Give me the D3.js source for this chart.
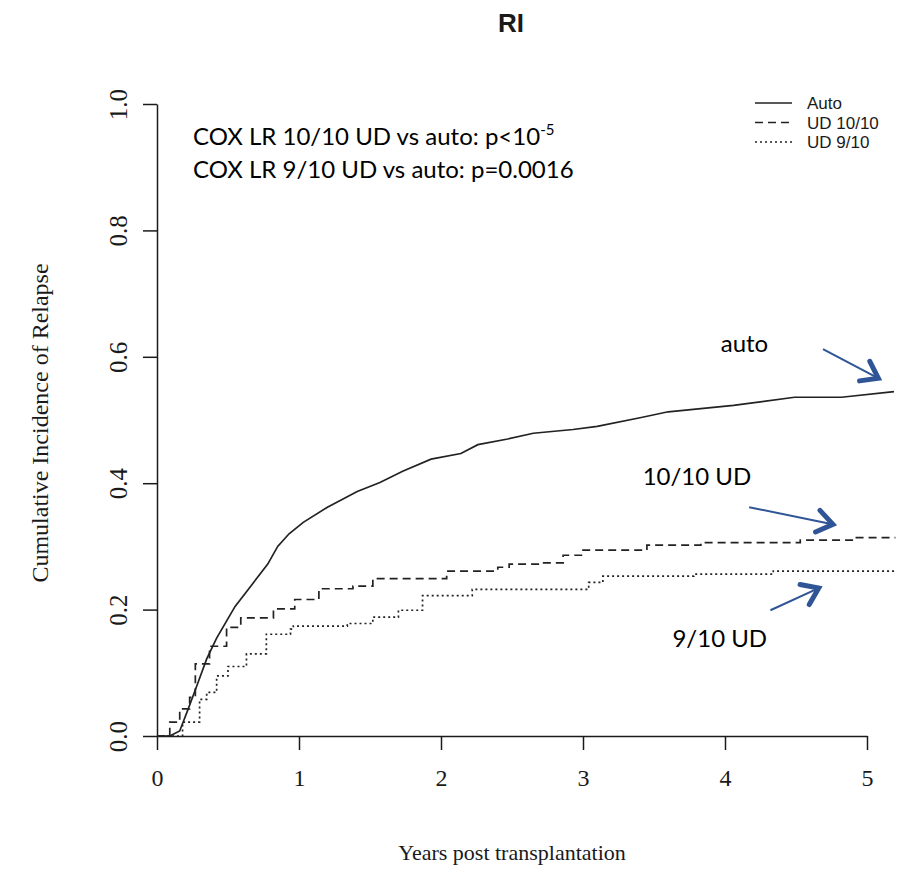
<!DOCTYPE html>
<html>
<head>
<meta charset="utf-8">
<script src="https://cdn.jsdelivr.net/npm/d3@7"></script>
<style>
  body { margin: 0; background: #fff; }
  svg { display: block; }
</style>
</head>
<body>
<svg id="chart"></svg>
<script>
// years post transplantation / cumulative incidence
var autoTime = [0, 0.09, 0.16, 0.22, 0.28, 0.35, 0.42, 0.55, 0.66, 0.78, 0.85, 0.93, 1.03, 1.20, 1.41, 1.57, 1.73, 1.93, 2.14, 2.26, 2.47, 2.65, 2.93, 3.10, 3.41, 3.60, 4.06, 4.49, 4.82, 5.19];
var autoCI   = [0, 0, 0.008, 0.043, 0.079, 0.122, 0.155, 0.205, 0.237, 0.272, 0.300, 0.320, 0.338, 0.362, 0.387, 0.401, 0.419, 0.438, 0.447, 0.461, 0.470, 0.479, 0.485, 0.490, 0.504, 0.513, 0.523, 0.536, 0.536, 0.545];

var ud10Time = [0, 0.035, 0.09, 0.16, 0.23, 0.27, 0.37, 0.49, 0.59, 0.82, 0.97, 1.14, 1.38, 1.52, 2.04, 2.40, 2.48, 2.70, 2.86, 3.00, 3.45, 3.83, 4.53, 4.91, 5.20];
var ud10CI   = [0, 0, 0.022, 0.043, 0.061, 0.114, 0.142, 0.172, 0.187, 0.201, 0.216, 0.233, 0.237, 0.249, 0.261, 0.267, 0.272, 0.274, 0.286, 0.294, 0.302, 0.306, 0.310, 0.314, 0.314];

var ud9Time = [0, 0.16, 0.18, 0.30, 0.35, 0.42, 0.50, 0.63, 0.77, 0.94, 0.96, 1.34, 1.52, 1.70, 1.87, 2.22, 3.04, 3.14, 3.78, 4.34, 5.20];
var ud9CI   = [0, 0, 0.022, 0.058, 0.069, 0.095, 0.110, 0.130, 0.161, 0.169, 0.174, 0.178, 0.188, 0.199, 0.222, 0.232, 0.243, 0.253, 0.256, 0.261, 0.261];

var xTicks = [0, 1, 2, 3, 4, 5];
var yTicks = [0, 0.2, 0.4, 0.6, 0.8, 1.0];
var legendLabels = ["Auto", "UD 10/10", "UD 9/10"];

var width = 901;
var height = 874;

var svg = d3.select("#chart")
  .attr("width", width)
  .attr("height", height);

// scales
var x = d3.scaleLinear().domain([0, 5]).range([157, 867]);
var y = d3.scaleLinear().domain([0, 1]).range([736, 104]);

var serif = "'Liberation Serif', 'Times New Roman', serif";
var arial = "'Liberation Sans', Arial, sans-serif";
var calibri = "Lato, 'Open Sans', sans-serif";
var ink = "#1a1a1a";

// title
svg.append("text")
  .attr("x", 511).attr("y", 32)
  .attr("text-anchor", "middle")
  .attr("font-family", arial)
  .attr("font-weight", "bold")
  .attr("font-size", 26)
  .attr("fill", ink)
  .text("RI");

// x axis
var xAxis = svg.append("g")
  .attr("transform", "translate(0," + y(0) + ")")
  .call(d3.axisBottom(x).tickValues(xTicks).tickSize(14).tickSizeOuter(0).tickPadding(19).tickFormat(d3.format("d")));
xAxis.selectAll("path, line").attr("stroke", ink).attr("stroke-width", 1.5);
xAxis.selectAll("text")
  .attr("font-family", serif)
  .attr("font-size", 24)
  .attr("fill", ink);

// y axis, labels turned like in R
var yAxis = svg.append("g")
  .attr("transform", "translate(" + x(0) + ",0)")
  .call(d3.axisLeft(y).tickValues(yTicks).tickSize(14).tickSizeOuter(0).tickFormat(d3.format(".1f")));
yAxis.selectAll("path, line").attr("stroke", ink).attr("stroke-width", 1.5);
yAxis.selectAll("text")
  .attr("x", null).attr("dy", null)
  .attr("transform", "translate(-39,0) rotate(-90)")
  .attr("dy", "0.35em")
  .attr("text-anchor", "middle")
  .attr("font-family", serif)
  .attr("font-size", 25)
  .attr("fill", ink);

// axis titles
svg.append("text")
  .attr("x", 512).attr("y", 860)
  .attr("text-anchor", "middle")
  .attr("font-family", serif)
  .attr("font-size", 22)
  .attr("fill", ink)
  .text("Years post transplantation");

svg.append("text")
  .attr("transform", "translate(40,423) rotate(-90)")
  .attr("dy", "0.35em")
  .attr("text-anchor", "middle")
  .attr("font-family", serif)
  .attr("font-size", 24)
  .attr("fill", ink)
  .text("Cumulative Incidence of Relapse");

// curves
var series = [
  { name: legendLabels[0], time: autoTime, ci: autoCI, dash: null, curve: d3.curveLinear },
  { name: legendLabels[1], time: ud10Time, ci: ud10CI, dash: "8,5", curve: d3.curveStepAfter },
  { name: legendLabels[2], time: ud9Time, ci: ud9CI, dash: "2,3", curve: d3.curveStepAfter }
];

series.forEach(function(s) {
  var pts = s.time.map(function(t, i) { return [t, s.ci[i]]; });
  svg.append("path")
    .datum(pts)
    .attr("fill", "none")
    .attr("stroke", "#222")
    .attr("stroke-width", 1.7)
    .attr("stroke-dasharray", s.dash)
    .attr("d", d3.line().curve(s.curve).x(d => x(d[0])).y(d => y(d[1])));
});

// legend
var legend = svg.append("g").attr("transform", "translate(755,103)");
series.forEach(function(s, i) {
  var row = legend.append("g").attr("transform", "translate(0," + (i * 19.5) + ")");
  row.append("line")
    .attr("x1", 0).attr("x2", 37)
    .attr("stroke", "#222").attr("stroke-width", 1.6)
    .attr("stroke-dasharray", s.dash);
  row.append("text")
    .attr("x", 52).attr("dy", "0.36em")
    .attr("font-family", arial)
    .attr("font-size", 17)
    .attr("fill", ink)
    .text(s.name);
});

// Cox test notes
var note = svg.append("g")
  .attr("font-family", calibri)
  .attr("font-size", 24)
  .attr("fill", "#000");
var n1 = note.append("text").attr("x", 193).attr("y", 145);
n1.append("tspan").text("COX LR 10/10 UD vs auto: p<10");
n1.append("tspan").attr("font-size", 15).attr("dy", -10).text("-5");
note.append("text").attr("x", 193).attr("y", 178).text("COX LR 9/10 UD vs auto: p=0.0016");

// curve labels with blue arrows (placed in data units)
var blue = "#2F5597";
var callouts = [
  { text: "auto",     tx: 3.97, ty: 0.607, x1: 4.69, y1: 0.612, x2: 5.08, y2: 0.566 },
  { text: "10/10 UD", tx: 3.42, ty: 0.397, x1: 4.17, y1: 0.362, x2: 4.76, y2: 0.335 },
  { text: "9/10 UD",  tx: 3.63, ty: 0.141, x1: 4.32, y1: 0.199, x2: 4.66, y2: 0.234 }
];
callouts.forEach(function(c) {
  svg.append("text")
    .attr("x", x(c.tx)).attr("y", y(c.ty))
    .attr("font-family", calibri)
    .attr("font-size", 24)
    .attr("fill", "#000")
    .text(c.text);

  var ax = x(c.x1), ay = y(c.y1), bx = x(c.x2), by = y(c.y2);
  var ang = Math.atan2(by - ay, bx - ax);
  var len = 19, spread = 0.62;
  svg.append("line")
    .attr("x1", ax).attr("y1", ay).attr("x2", bx - 3 * Math.cos(ang)).attr("y2", by - 3 * Math.sin(ang))
    .attr("stroke", blue).attr("stroke-width", 2);
  svg.append("polyline")
    .attr("points", [
      [bx - len * Math.cos(ang - spread), by - len * Math.sin(ang - spread)],
      [bx, by],
      [bx - len * Math.cos(ang + spread), by - len * Math.sin(ang + spread)]
    ].map(p => p.join(",")).join(" "))
    .attr("fill", "none")
    .attr("stroke", blue)
    .attr("stroke-width", 5)
    .attr("stroke-linecap", "round")
    .attr("stroke-linejoin", "miter");
});
</script>
</body>
</html>
